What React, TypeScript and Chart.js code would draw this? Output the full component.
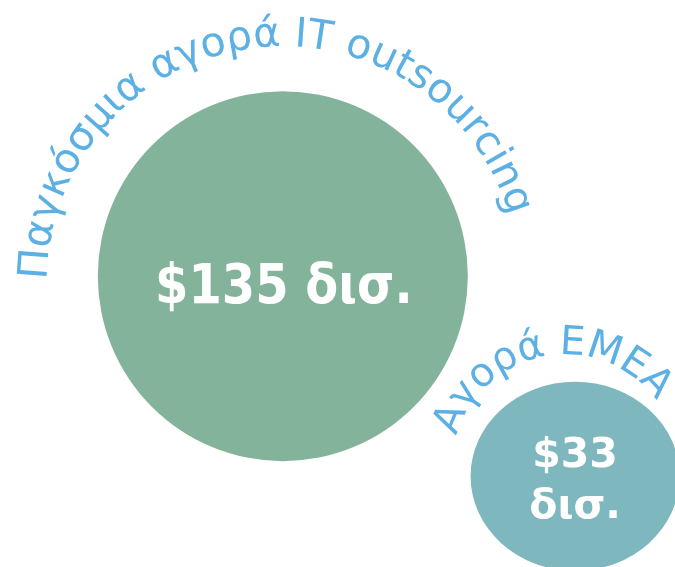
import React, { useEffect, useRef } from "react";
import { Chart, registerables } from "chart.js";

Chart.register(...registerables);

// ---- data ----
const categories = ["Παγκόσμια αγορά IT outsourcing", "Αγορά EMEA"];
const marketValues = [135, 33]; // $ billions
const valueLabels = [["$135 δισ."], ["$33", "δισ."]];
const xPositions = [4.19, 8.52];
const yPositions = [5.13, 1.6];

// ---- styles ----
const bubbleColors = ["#83B39A", "#7FB7BE"];
const titleColor = "#5DB0E4";
const FONT = "'DejaVu Sans', Verdana, sans-serif";
const arcStyle = [
  { dx: 0, dy: 6, r: 236, start: 180.5, size: 41 },
  { dx: -10, dy: -9, r: 113, start: 196, size: 40 },
];
const ellipse = [
  { sx: 1, sy: 1 },
  { sx: 1.05, sy: 0.95 },
];

function radiusFor(v: number) {
  return 185 * Math.pow(v / marketValues[0], 0.44);
}

function drawArcText(ctx: CanvasRenderingContext2D, text: string, cx: number, cy: number, r: number, startDeg: number, size: number) {
  ctx.save();
  ctx.font = `${size}px ${FONT}`;
  ctx.fillStyle = titleColor;
  ctx.textAlign = "center";
  ctx.textBaseline = "alphabetic";
  let theta = (startDeg * Math.PI) / 180;
  for (const ch of Array.from(text)) {
    const w = ctx.measureText(ch).width;
    const phi = theta + w / 2 / r;
    ctx.save();
    ctx.translate(cx + r * Math.cos(phi), cy + r * Math.sin(phi));
    ctx.rotate(phi + Math.PI / 2);
    ctx.fillText(ch, 0, 0);
    ctx.restore();
    theta += w / r;
  }
  ctx.restore();
}

const textPlugin = {
  id: "bubbleText",
  beforeDatasetDraw(chart: any, args: any) {
    const el = chart.getDatasetMeta(args.index).data[0];
    const e = ellipse[args.index];
    const ctx = chart.ctx;
    ctx.save();
    ctx.translate(el.x, el.y);
    ctx.scale(e.sx, e.sy);
    ctx.translate(-el.x, -el.y);
  },
  afterDatasetDraw(chart: any) {
    chart.ctx.restore();
  },
  afterDraw(chart: any) {
    const ctx: CanvasRenderingContext2D = chart.ctx;
    categories.forEach((cat, i) => {
      const el = chart.getDatasetMeta(i).data[0];
      const s = arcStyle[i];
      drawArcText(ctx, cat, el.x + s.dx, el.y + s.dy, s.r, s.start, s.size);
    });
    // value labels
    const big = chart.getDatasetMeta(0).data[0];
    ctx.save();
    ctx.fillStyle = "#FFFFFF";
    ctx.textAlign = "center";
    ctx.textBaseline = "alphabetic";
    ctx.font = `bold 48px ${FONT}`;
    ctx.translate(big.x + 1, big.y + 27);
    ctx.scale(1, 1.15);
    ctx.fillText(valueLabels[0][0], 0, 0);
    ctx.restore();

    const small = chart.getDatasetMeta(1).data[0];
    ctx.save();
    ctx.fillStyle = "#FFFFFF";
    ctx.textAlign = "center";
    ctx.textBaseline = "alphabetic";
    ctx.font = `bold 41px ${FONT}`;
    valueLabels[1].forEach((line, j) => {
      ctx.fillText(line, small.x, small.y - 9 + j * 51);
    });
    ctx.restore();
  },
};

export default function App() {
  const ref = useRef<HTMLCanvasElement | null>(null);
  useEffect(() => {
    if (!ref.current) return;
    const chart = new Chart(ref.current, {
      type: "bubble",
      data: {
        datasets: categories.map((c, i) => ({
          label: c,
          data: [{ x: xPositions[i], y: yPositions[i], r: radiusFor(marketValues[i]) }],
          backgroundColor: bubbleColors[i],
          borderWidth: 0,
          hoverRadius: 0,
          clip: false as any,
        })),
      },
      options: {
        animation: false,
        responsive: false,
        maintainAspectRatio: false,
        layout: { padding: 0, autoPadding: false },
        plugins: { legend: { display: false }, tooltip: { enabled: false }, title: { display: false } },
        events: [],
        scales: {
          x: { display: false, min: 0, max: 10 },
          y: { display: false, min: 0, max: 10 },
        },
      },
      plugins: [textPlugin],
    });
    return () => chart.destroy();
  }, []);
  return (
    <div style={{ position: "fixed", left: 0, top: 0, width: 675, height: 567, background: "#fff" }}>
      <canvas ref={ref} width={675} height={567} style={{ width: 675, height: 567, display: "block" }} />
    </div>
  );
}
